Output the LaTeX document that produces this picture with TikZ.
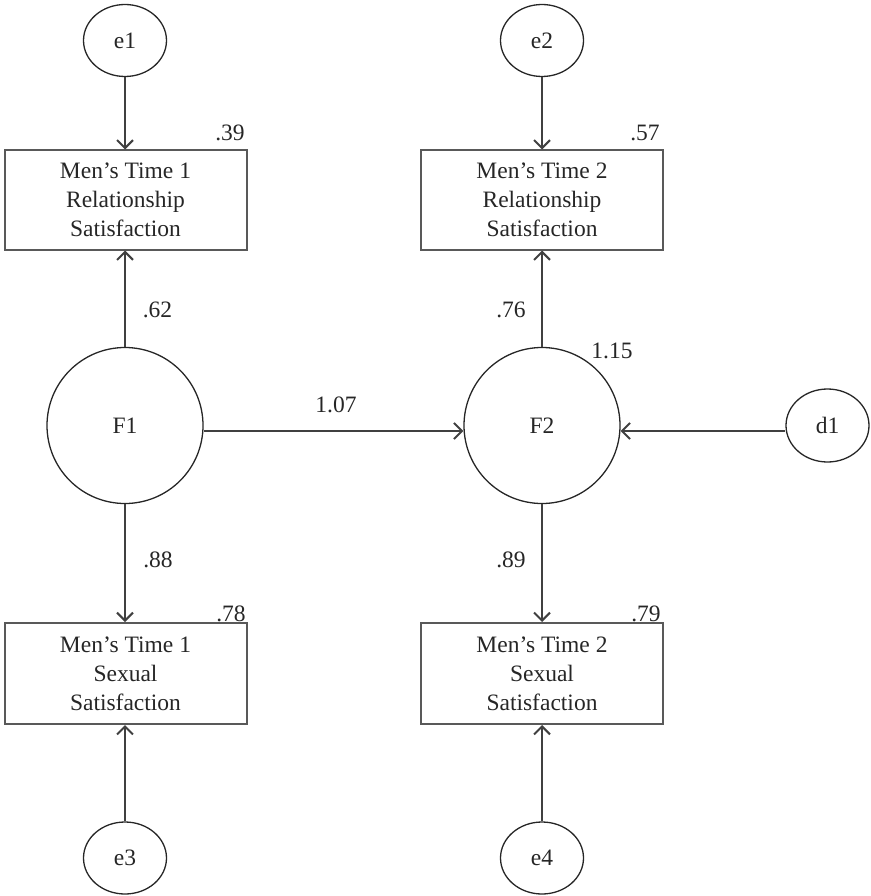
\documentclass[tikz,border=0pt]{standalone}
\usepackage{fontspec}
\setmainfont{Liberation Serif}
\usetikzlibrary{shapes.geometric,arrows.meta}
\begin{document}
\begin{tikzpicture}[x=1pt,y=-1pt,
  every node/.style={font=\fontsize{23.5}{29}\selectfont, text=black!85},
  errnode/.style={ellipse, draw=black!85, line width=1.3pt, minimum width=83pt, minimum height=72pt, inner sep=0pt},
  latent/.style={circle, draw=black!85, line width=1.3pt, minimum size=156pt, inner sep=0pt},
  obsbox/.style={rectangle, draw=black!65, line width=2pt, minimum width=242pt, minimum height=99pt, align=center, inner sep=0pt},
  path/.style={draw=black!65, line width=2pt, -{Straight Barb[length=8pt,width=16pt,line width=2pt]}, black!75},
  coef/.style={anchor=base, inner sep=0pt}
]
\useasboundingbox (0,0) rectangle (870,896);
% error terms
\node[errnode] (e1) at (125,40.5) {e1};
\node[errnode] (e2) at (542,40.5) {e2};
\node[errnode] (e3) at (125,858) {e3};
\node[errnode] (e4) at (542,858) {e4};
\node[errnode, minimum height=73pt] (d1) at (827.5,425.5) {d1};
% observed
\node[obsbox] (b1) at (125.5,200) {Men’s Time 1\\Relationship\\Satisfaction};
\node[obsbox] (b2) at (542,200) {Men’s Time 2\\Relationship\\Satisfaction};
\node[obsbox, minimum height=101pt] (b3) at (125.5,673.5) {Men’s Time 1\\Sexual\\Satisfaction};
\node[obsbox, minimum height=101pt] (b4) at (542,673.5) {Men’s Time 2\\Sexual\\Satisfaction};
% latent
\node[latent] (F1) at (125,425.5) {F1};
\node[latent] (F2) at (542,425.5) {F2};
% paths
\draw[path] (e1) -- (e1 |- b1.north);
\draw[path] (e2) -- (e2 |- b2.north);
\draw[path] (e3) -- (e3 |- b3.south);
\draw[path] (e4) -- (e4 |- b4.south);
\draw[path] (F1) -- (F1 |- b1.south);
\draw[path] (F2) -- (F2 |- b2.south);
\draw[path] (F1) -- (F1 |- b3.north);
\draw[path] (F2) -- (F2 |- b4.north);
\draw[path] ([yshift=-5.5pt]F1.east) -- ([yshift=-5.5pt]F2.west);
\draw[path] ([yshift=-5.5pt]d1.west) -- ([yshift=-5.5pt]F2.east);
% coefficients
\node[coef] (c39) at (230,141) {.39};
\node[coef] (c57) at (645,141) {.57};
\node[coef] (c78) at (231,621) {.78};
\node[coef] (c79) at (646,621) {.79};
\node[coef] (c62) at (157.5,317) {.62};
\node[coef] (c76) at (511,317) {.76};
\node[coef] (c88) at (158,567) {.88};
\node[coef] (c89) at (511,567) {.89};
\node[coef] (c107) at (336,412) {1.07};
\node[coef] (c115) at (612,358) {1.15};
\end{tikzpicture}
\end{document}
